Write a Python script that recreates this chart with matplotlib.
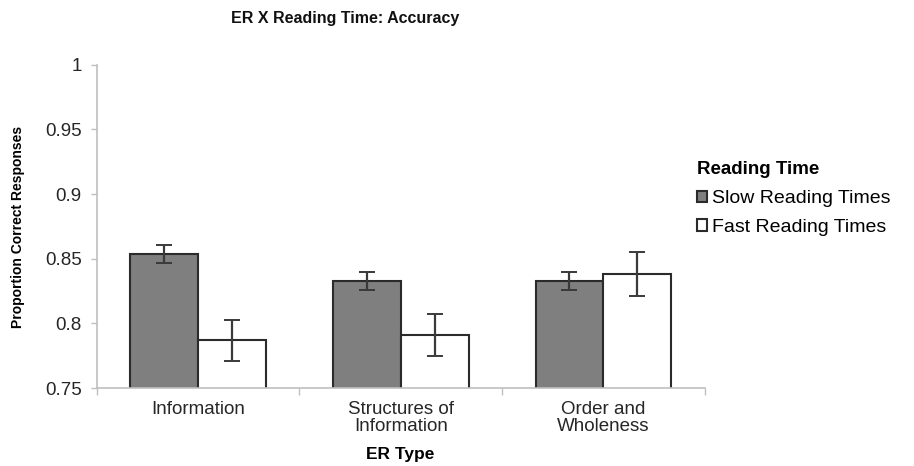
import matplotlib.pyplot as plt
import numpy as np

plt.rcParams['font.family'] = ['Liberation Sans', 'DejaVu Sans']

# data
categories = ['Information', 'Structures of\nInformation', 'Order and\nWholeness']
slow_means = [0.854, 0.833, 0.833]
slow_err = [0.007, 0.007, 0.007]
fast_means = [0.787, 0.791, 0.838]
fast_err = [0.016, 0.016, 0.017]
series_names = ['Slow Reading Times', 'Fast Reading Times']
yticks = [0.75, 0.8, 0.85, 0.9, 0.95, 1]
ytick_labels = ['0.75', '0.8', '0.85', '0.9', '0.95', '1']

fig = plt.figure(figsize=(9.14, 4.66), dpi=100)
ax = fig.add_axes([0.106, 0.167, 0.665, 0.694])

x = np.arange(len(categories))
w = 0.335
err_kw = dict(ecolor='#3a3a3a', elinewidth=1.6, capsize=5.5, capthick=1.4)
ax.bar(x - w / 2, slow_means, w, yerr=slow_err, color='#7f7f7f',
       edgecolor='#2b2b2b', linewidth=1.5, label=series_names[0], error_kw=err_kw)
ax.bar(x + w / 2, fast_means, w, yerr=fast_err, color='white',
       edgecolor='#2b2b2b', linewidth=1.5, label=series_names[1], error_kw=err_kw)

ax.set_ylim(0.75, 1)
ax.set_xlim(-0.5, 2.5)
ax.set_yticks(yticks)
ax.set_yticklabels(ytick_labels, fontsize=13.5, color='#262626')
ax.set_xticks(x)
ax.set_xticklabels(categories, fontsize=13.5, color='#262626', linespacing=1.05)
ax.set_xticks([-0.5, 0.5, 1.5, 2.5], minor=True)
ax.tick_params(axis='x', which='major', length=0, pad=9)
ax.tick_params(axis='x', which='minor', length=5, color='#bfbfbf', width=1)
ax.tick_params(axis='y', length=4, color='#bfbfbf', width=1, pad=7)

for s in ['top', 'right']:
    ax.spines[s].set_visible(False)
for s in ['left', 'bottom']:
    ax.spines[s].set_color('#bfbfbf')
    ax.spines[s].set_linewidth(1.2)

ax.set_ylabel('Proportion Correct Responses', fontsize=10, fontweight='bold')
ax.yaxis.set_label_coords(-0.118, 0.5)
# x label sits close to the bottom edge, as in the reference
fig.text(0.438, 1 - 455 / 466, 'ER Type', fontsize=12.5, fontweight='bold',
         ha='center', va='center')

fig.text(0.378, 0.961, 'ER X Reading Time: Accuracy', fontsize=11.5,
         fontweight='bold', ha='center', va='center', color='#111111')

leg = ax.legend(loc='upper left', bbox_to_anchor=(0.763, 0.655),
                bbox_transform=fig.transFigure, frameon=False,
                title='Reading Time', fontsize=14, handlelength=0.5,
                handleheight=0.5, handletextpad=0.25, labelspacing=0.6,
                borderaxespad=0, borderpad=0)
leg.get_title().set_fontweight('bold')
leg.get_title().set_fontsize(13.5)
leg._legend_box.align = 'left'
leg._legend_box.sep = 9

fig.savefig('out.png', dpi=100)
